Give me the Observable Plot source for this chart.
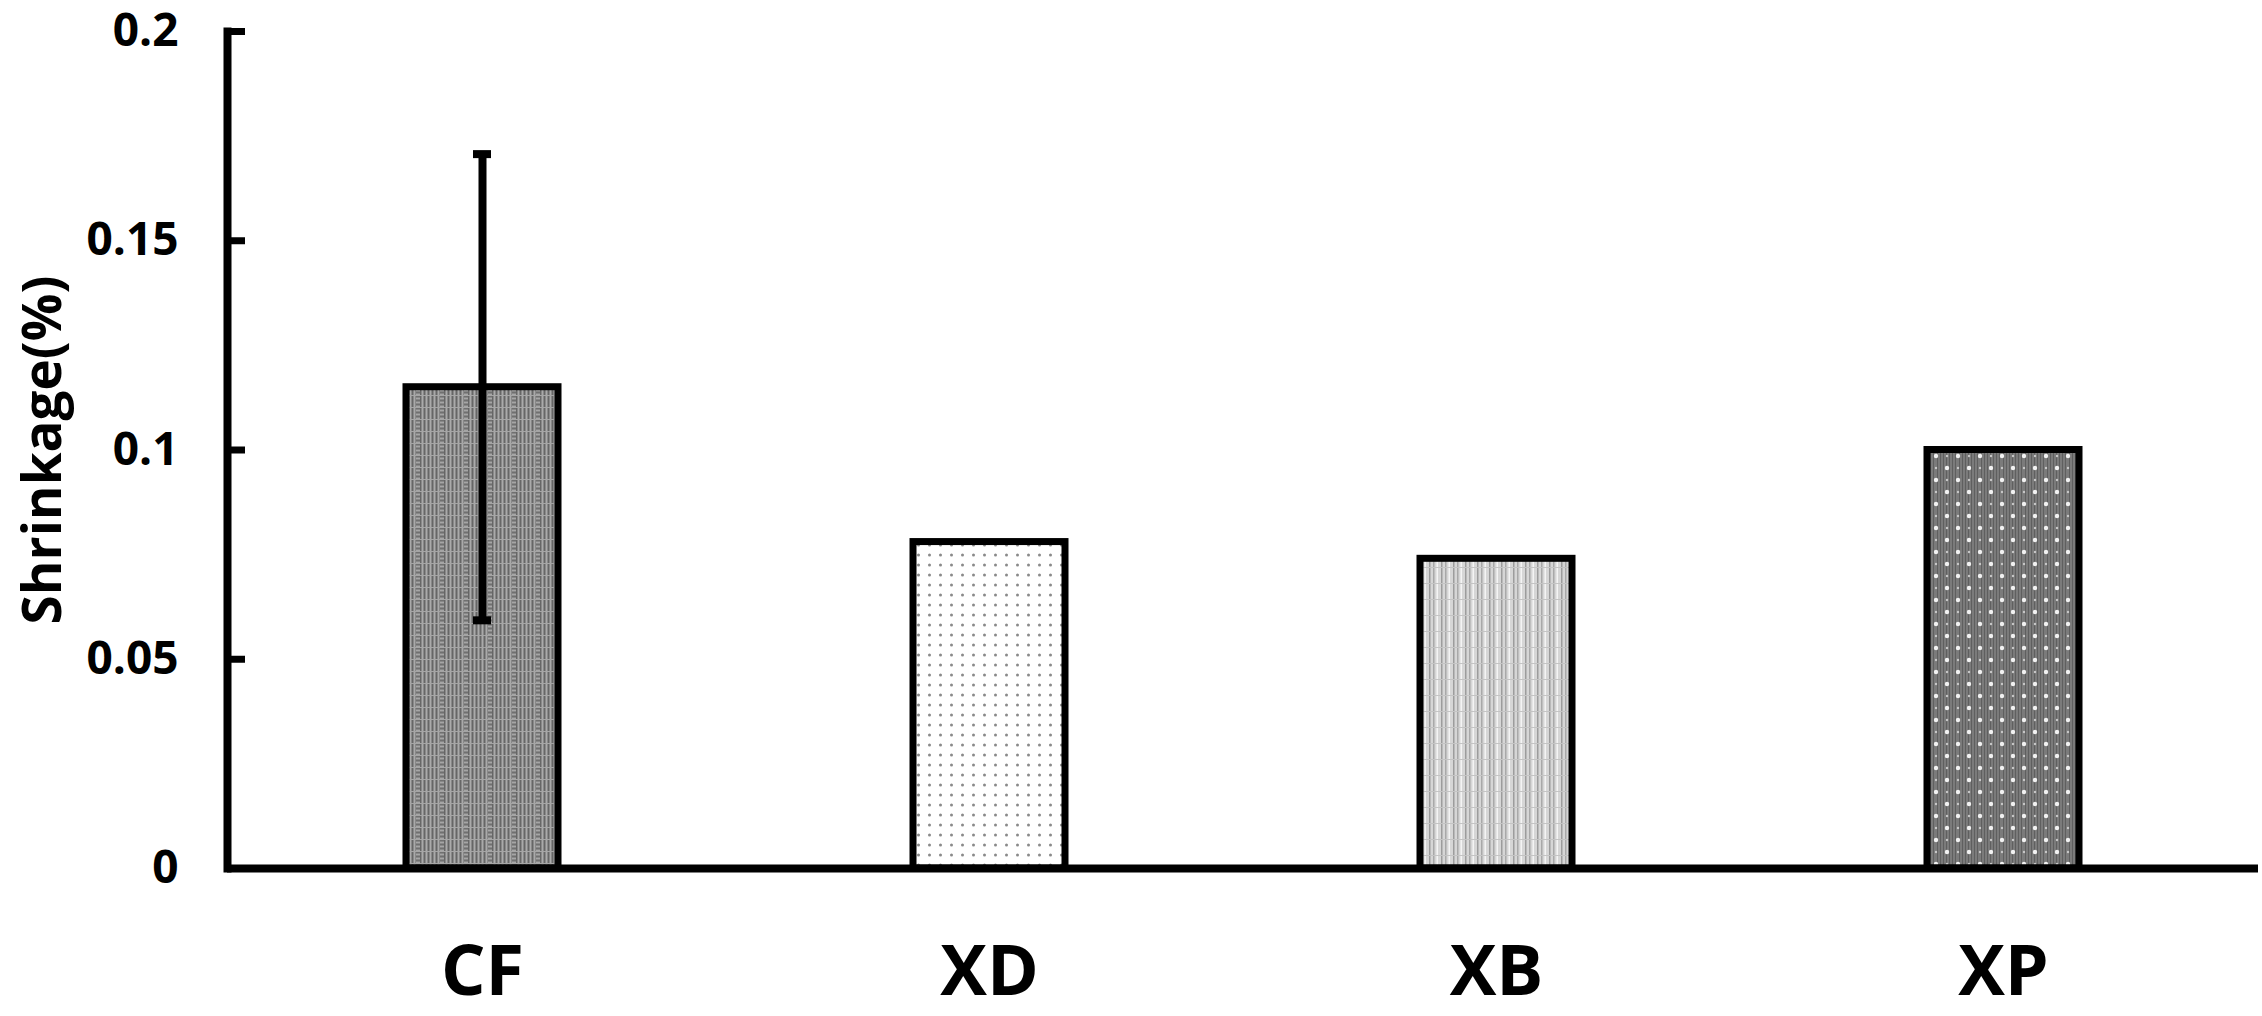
<!DOCTYPE html>
<html>
<head>
<meta charset="utf-8">
<script src="https://cdn.jsdelivr.net/npm/d3@7"></script>
<script src="https://cdn.jsdelivr.net/npm/@observablehq/plot@0.6"></script>
<style>
  html, body { margin: 0; padding: 0; background: #fff; }
  #chart svg { display: block; }
</style>
</head>
<body>
<div id="chart"></div>
<script>
// ---- data ----
const categories = ["CF", "XD", "XB", "XP"];
const values = [0.115, 0.078, 0.074, 0.100];
const errors = [0.0557, null, null, null];
const yTicks = [0, 0.05, 0.1, 0.15, 0.2];
const yTickLabels = ["0", "0.05", "0.1", "0.15", "0.2"];
const yLabel = "Shrinkage(%)";
const patternIds = ["patCF", "patXD", "patXB", "patXP"];

const data = categories.map((c, i) => ({cat: c, value: values[i], err: errors[i]}));
const errData = data.filter(d => d.err != null).map(d => ({cat: d.cat, lo: d.value - d.err, hi: d.value + d.err}));

const chart = Plot.plot({
  width: 2262,
  height: 1016,
  marginLeft: 227,
  marginRight: 4,
  marginTop: 31,
  marginBottom: 148,
  style: {fontFamily: "'Open Sans', sans-serif", background: "#fff", color: "#000"},
  x: {domain: categories, paddingInner: 0.7, paddingOuter: 0.35, label: null},
  y: {domain: [0, 0.2], label: null},
  color: {type: "ordinal", domain: categories, range: patternIds.map(id => `url(#${id})`)},
  marks: [
    Plot.barY(data, {x: "cat", y: "value", fill: "cat", stroke: "#000", strokeWidth: 7}),
    Plot.ruleX(errData, {x: "cat", y1: "lo", y2: "hi", stroke: "#000", strokeWidth: 8}),
    Plot.tickY(errData, {x: "cat", y: "hi", stroke: "#000", strokeWidth: 8, insetLeft: 67, insetRight: 67}),
    Plot.tickY(errData, {x: "cat", y: "lo", stroke: "#000", strokeWidth: 8, insetLeft: 67, insetRight: 67}),
    Plot.axisY(yTicks, {tickSize: -18, strokeWidth: 7, text: null, label: null}),
    Plot.axisY(yTicks, {tickSize: 0, tickPadding: 49, fontSize: 46, fontWeight: 700,
      tickFormat: (d, i) => yTickLabels[yTicks.indexOf(d)], label: null}),
    Plot.axisX({tickSize: 0, tickPadding: 77, fontSize: 70, fontWeight: 700, label: null}),
    Plot.text([yLabel], {frameAnchor: "left", textAnchor: "middle", lineAnchor: "middle",
      rotate: -90, dx: -183, text: d => d, fontSize: 53, fontWeight: 700, fill: "#000"}),
    Plot.ruleY([0], {stroke: "#000", strokeWidth: 8}),
    Plot.frame({anchor: "left", stroke: "#000", strokeWidth: 8})
  ]
});

document.getElementById("chart").appendChild(chart);

// ---- hatch patterns used as bar fills ----
const svg = d3.select(chart);
const defs = svg.insert("defs", ":first-child");

// CF: mid-grey plaid of fine vertical and horizontal lines
{
  const p = defs.append("pattern").attr("id", "patCF").attr("patternUnits", "userSpaceOnUse")
    .attr("width", 24).attr("height", 24);
  p.append("rect").attr("width", 24).attr("height", 24).attr("fill", "#888888");
  for (let x = 0; x < 24; x += 2) {
    if (x >= 8 && x < 12) continue;
    p.append("rect").attr("x", x).attr("y", 0).attr("width", 1).attr("height", 24)
      .attr("fill", x % 4 === 0 ? "#666666" : "#aaaaaa");
  }
  for (let y = 0; y < 24; y += 2) {
    p.append("rect").attr("x", 8).attr("y", y).attr("width", 4).attr("height", 1)
      .attr("fill", y % 4 === 0 ? "#707070" : "#a6a6a6");
  }
  p.append("rect").attr("x", 0).attr("y", 11).attr("width", 24).attr("height", 1).attr("fill", "#a5a5a5");
  p.append("rect").attr("x", 0).attr("y", 23).attr("width", 24).attr("height", 1).attr("fill", "#a5a5a5");
}
// XD: white with grey dots
{
  const p = defs.append("pattern").attr("id", "patXD").attr("patternUnits", "userSpaceOnUse")
    .attr("width", 11).attr("height", 10);
  p.append("rect").attr("width", 11).attr("height", 10).attr("fill", "#fff");
  p.append("circle").attr("cx", 5.5).attr("cy", 5).attr("r", 1.5).attr("fill", "#8a8a8a");
}
// XB: light grey vertical stripes
{
  const p = defs.append("pattern").attr("id", "patXB").attr("patternUnits", "userSpaceOnUse")
    .attr("width", 12).attr("height", 16);
  p.append("rect").attr("width", 12).attr("height", 16).attr("fill", "#d6d6d6");
  p.append("rect").attr("x", 1).attr("width", 1.5).attr("height", 16).attr("fill", "#9c9c9c");
  p.append("rect").attr("x", 5).attr("width", 1.5).attr("height", 16).attr("fill", "#a8a8a8");
  p.append("rect").attr("x", 8.5).attr("width", 1.5).attr("height", 16).attr("fill", "#f4f4f4");
  p.append("rect").attr("x", 0).attr("y", 7).attr("width", 12).attr("height", 1).attr("fill", "#c4c4c4");
}
// XP: dark grey with white dots
{
  const p = defs.append("pattern").attr("id", "patXP").attr("patternUnits", "userSpaceOnUse")
    .attr("width", 22).attr("height", 24);
  p.append("rect").attr("width", 22).attr("height", 24).attr("fill", "#7b7b7b");
  for (let x = 1; x < 22; x += 3) {
    p.append("rect").attr("x", x).attr("y", 0).attr("width", 1).attr("height", 24).attr("fill", "#5f5f5f");
  }
  p.append("circle").attr("cx", 0).attr("cy", 0).attr("r", 2.2).attr("fill", "#f2f2f2");
  p.append("circle").attr("cx", 22).attr("cy", 0).attr("r", 2.2).attr("fill", "#f2f2f2");
  p.append("circle").attr("cx", 0).attr("cy", 24).attr("r", 2.2).attr("fill", "#f2f2f2");
  p.append("circle").attr("cx", 22).attr("cy", 24).attr("r", 2.2).attr("fill", "#f2f2f2");
  p.append("circle").attr("cx", 11).attr("cy", 12).attr("r", 2.2).attr("fill", "#f2f2f2");
  p.append("circle").attr("cx", 11).attr("cy", 0).attr("r", 1.2).attr("fill", "#c8c8c8");
  p.append("circle").attr("cx", 0).attr("cy", 12).attr("r", 1.2).attr("fill", "#c8c8c8");
  p.append("circle").attr("cx", 22).attr("cy", 12).attr("r", 1.2).attr("fill", "#c8c8c8");
  p.append("circle").attr("cx", 11).attr("cy", 24).attr("r", 1.2).attr("fill", "#c8c8c8");
}
</script>
</body>
</html>
